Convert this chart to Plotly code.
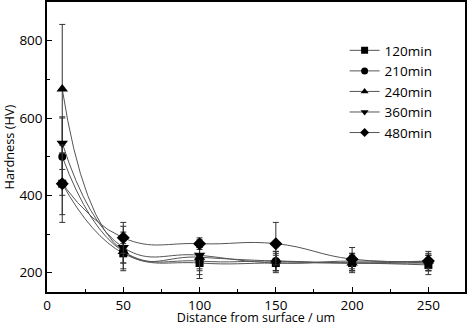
import plotly.graph_objects as go

distance = [10, 50, 100, 150, 200, 250]
series_names = ["120min", "210min", "240min", "360min", "480min"]
hv_120 = [430, 250, 225, 225, 225, 220]
hv_210 = [500, 255, 230, 230, 225, 225]
hv_240 = [675, 255, 240, 230, 225, 230]
hv_360 = [535, 265, 245, 225, 230, 225]
hv_480 = [430, 290, 275, 275, 235, 230]
err_120 = [80, 25, 40, 20, 20, 25]
err_210 = [100, 30, 35, 25, 20, 20]
err_240 = [167, 50, 30, 25, 25, 25]
err_360 = [68, 55, 40, 25, 20, 20]
err_480 = [100, 40, 15, 55, 30, 20]
symbols = ["square", "circle", "triangle-up", "triangle-down", "diamond"]
sizes = [8, 8, 10, 10, 10]

values = [hv_120, hv_210, hv_240, hv_360, hv_480]
errors = [err_120, err_210, err_240, err_360, err_480]

fig = go.Figure()
for name, v, e, sym, sz in zip(series_names, values, errors, symbols, sizes):
    fig.add_trace(go.Scatter(
        x=distance, y=v, name=name, mode="lines+markers", showlegend=False,
        legendgroup=name,
        line=dict(color="#555555", width=1, shape="spline", smoothing=1.3),
        marker=dict(symbol=sym, size=sz, color="black"),
        error_y=dict(type="data", array=e, visible=True, color="#333333", thickness=1, width=3),
    ))
# legend keys with smaller symbols, as in the reference
for name, sym in zip(series_names, symbols):
    fig.add_trace(go.Scatter(
        x=[None], y=[None], name=name, mode="lines+markers", legendgroup=name,
        line=dict(color="#555555", width=1),
        marker=dict(symbol=sym, size=7, color="black"),
    ))

axis_font = dict(family="Open Sans", size=13.5, color="black")
fig.update_layout(
    width=467, height=326,
    margin=dict(l=47, r=2, t=2, b=34),
    paper_bgcolor="white", plot_bgcolor="white",
    font=dict(family="Open Sans", size=12, color="black"),
    legend=dict(x=0.712, y=0.886, xanchor="left", yanchor="top",
                bgcolor="rgba(0,0,0,0)", font=dict(size=13.5), tracegroupgap=0,
                itemwidth=30),
    showlegend=True,
)
fig.update_xaxes(
    range=[0, 274], dtick=50, tick0=0, ticks="inside", ticklen=5, tickwidth=1,
    tickcolor="black", linecolor="black", linewidth=1.5, mirror=True, showgrid=False,
    zeroline=False, tickfont=axis_font, automargin=False,
    minor=dict(ticks="inside", ticklen=3, dtick=25, tickcolor="black"),
    title=dict(text="Distance from surface / um", font=dict(size=12.5), standoff=9),
)
fig.update_yaxes(
    range=[150, 900], dtick=200, tick0=0, ticks="inside", ticklen=5, tickwidth=1,
    tickcolor="black", linecolor="black", linewidth=1.5, mirror=True, showgrid=False,
    zeroline=False, tickfont=axis_font, automargin=False,
    minor=dict(ticks="inside", ticklen=3, dtick=100, tickcolor="black"),
    title=dict(text="Hardness (HV)", font=dict(size=12.8), standoff=4),
)
fig.write_html("out.html", config={"displayModeBar": False},
               post_script="document.body.style.margin='0';")
